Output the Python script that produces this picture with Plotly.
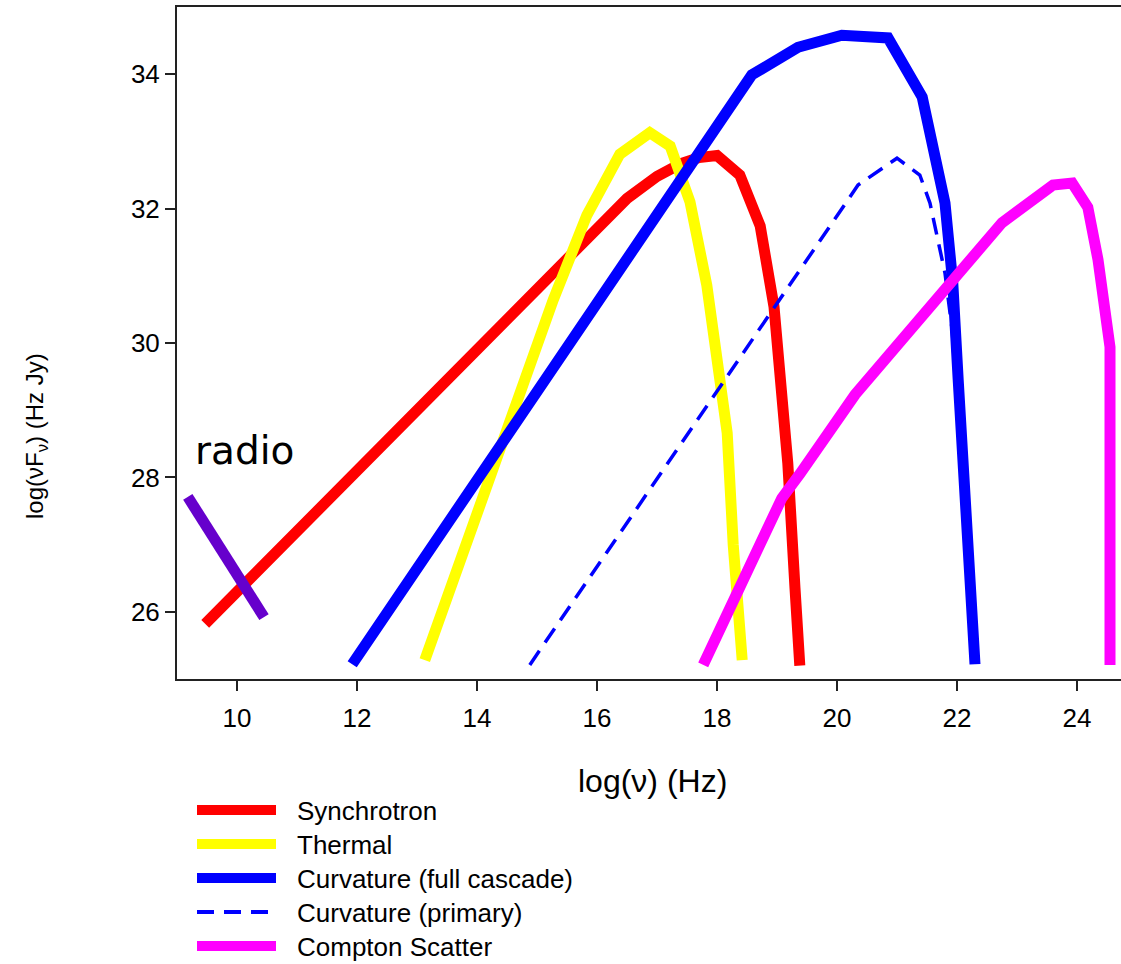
import plotly.graph_objects as go

# Spectral components: log10 frequency (Hz) vs log10(nu F_nu)
sync_x = [9.47, 12.0, 14.0, 16.5, 17.0, 17.4, 17.7, 18.0, 18.38, 18.72, 18.95, 19.18, 19.3, 19.38]
sync_y = [25.82, 28.08, 29.87, 32.15, 32.48, 32.67, 32.76, 32.79, 32.5, 31.74, 30.54, 28.21, 26.35, 25.2]

therm_x = [13.13, 14.38, 15.27, 15.83, 16.38, 16.88, 17.22, 17.55, 17.83, 18.17, 18.27, 18.42]
therm_y = [25.28, 28.39, 30.64, 31.9, 32.81, 33.13, 32.93, 32.1, 30.86, 28.66, 27.0, 25.28]

curv_x = [11.92, 18.58, 19.35, 20.08, 20.85, 21.42, 21.8, 21.93, 22.02, 22.3]
curv_y = [25.22, 33.99, 34.40, 34.58, 34.54, 33.66, 32.08, 30.89, 29.45, 25.22]

prim_x = [14.88, 20.05, 20.35, 21.0, 21.38, 21.55, 21.68, 21.8, 21.92, 22.02]
prim_y = [25.21, 31.98, 32.35, 32.75, 32.5, 32.08, 31.53, 31.04, 30.19, 28.85]

comp_x = [17.77, 19.08, 19.38, 20.3, 22.75, 23.6, 23.92, 24.18, 24.35, 24.55, 24.55]
comp_y = [25.21, 27.69, 28.05, 29.23, 31.79, 32.35, 32.38, 32.02, 31.24, 29.94, 25.21]

radio_x = [9.18, 10.45]
radio_y = [27.71, 25.92]

x_ticks = [10, 12, 14, 16, 18, 20, 22, 24]
y_ticks = [26, 28, 30, 32, 34]

legend_names = ["Synchrotron", "Thermal", "Curvature (full cascade)",
                "Curvature (primary)", "Compton Scatter"]

RED, YELLOW, BLUE, MAGENTA, PURPLE = "#ff0000", "#ffff00", "#0000ff", "#ff00ff", "#6600cc"
W = 11
FONT = "Liberation Sans, Arial"

fig = go.Figure()
series = [
    (sync_x, sync_y, RED, W, "solid"),
    (therm_x, therm_y, YELLOW, W, "solid"),
    (curv_x, curv_y, BLUE, W, "solid"),
    (prim_x, prim_y, BLUE, 3.5, "17px,10px"),
    (comp_x, comp_y, MAGENTA, W, "solid"),
    (radio_x, radio_y, PURPLE, W, "solid"),
]
for xs, ys, col, wd, dash in series:
    fig.add_trace(go.Scatter(x=xs, y=ys, mode="lines",
                             line=dict(color=col, width=wd, dash=dash),
                             showlegend=False, hoverinfo="skip"))

# plot-area geometry in pixels, used to place the legend below the axes
L, R, T, B = 177, 1121, 7, 679
def px_x(px):
    return (px - L) / (R - L)
def px_y(py):
    return (B - py) / (B - T)

shapes = []
annotations = []
leg_styles = [(RED, 10, "solid"), (YELLOW, 10, "solid"), (BLUE, 10, "solid"),
              (BLUE, 4, "17px,10px"), (MAGENTA, 10, "solid")]
row_y = [810, 844, 878, 912, 946]
for name, (col, wd, dash), ry in zip(legend_names, leg_styles, row_y):
    shapes.append(dict(type="line", xref="paper", yref="paper",
                       x0=px_x(197), x1=px_x(276), y0=px_y(ry), y1=px_y(ry),
                       line=dict(color=col, width=wd, dash=dash)))
    annotations.append(dict(xref="paper", yref="paper", x=px_x(295), y=px_y(ry + 1),
                            text=name, showarrow=False, xanchor="left", yanchor="middle",
                            font=dict(family=FONT, size=26, color="black")))

annotations.append(dict(xref="x", yref="y", x=9.27, y=28.4, text="radio",
                        showarrow=False, xanchor="left", yanchor="middle",
                        font=dict(family="DejaVu Sans", size=39, color="black")))
annotations.append(dict(xref="paper", yref="paper", x=px_x(36), y=px_y(436),
                        text="log(νF<sub>ν</sub>) (Hz Jy)", textangle=-90, showarrow=False,
                        xanchor="center", yanchor="middle",
                        font=dict(family=FONT, size=24, color="black")))
annotations.append(dict(xref="paper", yref="paper", x=px_x(652), y=px_y(781),
                        text="log(ν) (Hz)", showarrow=False,
                        xanchor="center", yanchor="middle",
                        font=dict(family=FONT, size=32, color="black")))

fig.update_layout(
    width=1121, height=964,
    margin=dict(l=L, r=1121 - R, t=T, b=964 - B),
    plot_bgcolor="white", paper_bgcolor="white",
    shapes=shapes, annotations=annotations,
    showlegend=False,
)
fig.update_xaxes(range=[9, 9 + (R - L) / 60], tickvals=x_ticks, ticks="outside", ticklen=10,
                 tickwidth=1.5, tickcolor="#222", showline=True, linecolor="#222", linewidth=2,
                 mirror=True, showgrid=False, zeroline=False, ticklabelstandoff=5,
                 tickfont=dict(family=FONT, size=26, color="black"))
fig.update_yaxes(range=[25, 35], tickvals=y_ticks, ticks="outside", ticklen=10,
                 tickwidth=1.5, tickcolor="#222", showline=True, linecolor="#222", linewidth=2,
                 showgrid=False, zeroline=False, ticklabelstandoff=0, ticksuffix="\u00a0",
                 tickfont=dict(family=FONT, size=26, color="black"))

fig.write_html("out.html")
